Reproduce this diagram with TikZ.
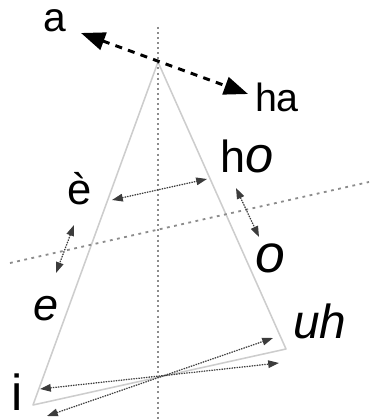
\documentclass[tikz,border=0pt]{standalone}
\usepackage{fontspec}
\setmainfont{Liberation Sans}
\usetikzlibrary{arrows.meta}

\begin{document}
\begin{tikzpicture}[x=0.025cm, y=-0.025cm]

\definecolor{frame_color}{RGB}{205,205,205}
\definecolor{axis_color}{RGB}{140,140,140}
\definecolor{move_color}{RGB}{60,60,60}

\tikzset{
  axis/.style={draw=axis_color, line width=1.4pt, dash pattern=on 1.4pt off 2.2pt},
  tiltaxis/.style={draw=axis_color, line width=1.3pt, dash pattern=on 2pt off 3.2pt},
  frame/.style={draw=frame_color, line width=1.1pt, line join=round},
  glide/.style={{Triangle[length=2.7mm, width=1.9mm]}-{Triangle[length=2.7mm, width=1.9mm]}, draw=move_color, fill=move_color, line width=0.9pt, dash pattern=on 0.9pt off 0.9pt},
  jump/.style={{Triangle[length=6mm, width=4.5mm]}-{Triangle[length=6mm, width=4.5mm]}, draw=black, line width=2.1pt, dash pattern=on 5pt off 4.5pt},
  vowel/.style={inner sep=0pt, text=black},
}

\useasboundingbox (0,0) rectangle (369,420);

% vowel triangle and axes
\coordinate (apex) at (158,62);
\coordinate (ileft) at (33,405);
\coordinate (uright) at (286,349);
\coordinate (axtop) at (158,27);
\coordinate (axbot) at (158,420);
\coordinate (tiltl) at (10,263);
\coordinate (tiltr) at (369,182);

\draw[frame] (apex) -- (ileft) -- (uright) -- cycle;
\draw[axis] (axtop) -- (axbot);
\draw[tiltaxis] (tiltl) -- (tiltr);

% labels
\node[vowel, font=\fontsize{29}{29}\selectfont] (a) at (55,21) {a};
\node[vowel, font=\fontsize{28}{28}\selectfont] (ha) at (277,97) {ha};
\node[vowel, font=\fontsize{32}{32}\selectfont] (ho) at (247,156) {h{\fontsize{36}{36}\selectfont\itshape o}};
\node[vowel, font=\fontsize{31}{31}\selectfont] (egrave) at (80,189) {è};
\node[vowel, font=\fontsize{38}{38}\selectfont\itshape] (o) at (270,258) {o};
\node[vowel, font=\fontsize{32}{32}\selectfont\itshape] (e) at (46,309) {e};
\node[vowel, font=\fontsize{34}{34}\selectfont\itshape] (uh) at (320,321) {uh};
\node[vowel, font=\fontsize{36}{36}\selectfont] (i) at (17,392) {i};

% arrow ends
\coordinate (ja) at (81,33);
\coordinate (jha) at (248,94);
\coordinate (ge) at (112,200);
\coordinate (gho) at (207,179);
\coordinate (got) at (236,188);
\coordinate (gob) at (259,237);
\coordinate (get) at (74,225);
\coordinate (geb) at (56,273);
\coordinate (giu) at (40,389);
\coordinate (gul) at (279,363);
\coordinate (gil) at (47,416);
\coordinate (guu) at (273,338);

\draw[jump] (ja) -- (jha);
\draw[glide] (ge) -- (gho);
\draw[glide] (got) -- (gob);
\draw[glide] (get) -- (geb);
\draw[glide] (giu) -- (gul);
\draw[glide] (gil) -- (guu);

\end{tikzpicture}
\end{document}
